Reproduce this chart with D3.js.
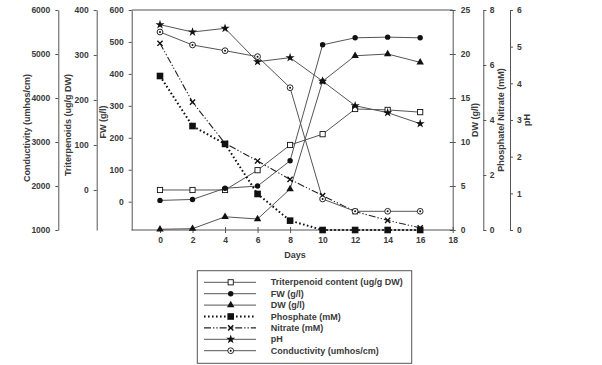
<!DOCTYPE html>
<html>
<head>
<meta charset="utf-8">
<script src="https://cdn.jsdelivr.net/npm/d3@7"></script>
<style>
  body { margin: 0; background: #fff; }
  svg text { font-family: Arial, "Liberation Sans", sans-serif; font-weight: bold; }
</style>
</head>
<body>
<svg id="chart" width="602" height="365"></svg>
<script>
// days on the x axis
const days = [0, 2, 4, 6, 8, 10, 12, 14, 16];
const dayTicks = [0, 2, 4, 6, 8, 10, 12, 14, 16, 18];

// series values
const triterpenoid = [0, 0, 0, 44, 100, 124, 180, 178, 173];
const fw = [4, 7, 42, 49, 128, 491, 513, 515, 513];
const dw = [0.08, 0.15, 1.5, 1.25, 4.66, 16.9, 19.8, 20.0, 19.05];
const phosphate = [5.6, 3.78, 3.13, 1.31, 0.34, 0, 0, 0, 0];
const nitrate = [6.79, 4.65, 3.15, 2.51, 1.84, 1.25, 0.67, 0.35, 0.08];
const ph = [5.6, 5.4, 5.5, 4.59, 4.7, 4.06, 3.39, 3.2, 2.9];
const conductivity = [5500, 5205, 5075, 4940, 4234, 1705, 1425, 1425, 1425];

// axis tick labels
const fwTicks = [0, 100, 200, 300, 400, 500, 600];
const triTicks = [0, 100, 200, 300, 400];
const condTicks = [1000, 2000, 3000, 4000, 5000, 6000];
const dwTicks = [0, 5, 10, 15, 20, 25];
const pnTicks = [0, 2, 4, 6, 8];
const phTicks = [0, 1, 2, 3, 4, 5, 6];

const legendLabels = ["Triterpenoid content (ug/g DW)", "FW (g/l)", "DW (g/l)",
  "Phosphate (mM)", "Nitrate (mM)", "pH", "Conductivity (umhos/cm)"];

const svg = d3.select("#chart");
const plotTop = 10, plotBottom = 230, plotLeft = 131.7, plotRight = 452.7;
const lineColor = "#555", markColor = "#111", textColor = "#3a3a3a";

const x = d3.scaleLinear().domain([-1.74, 18]).range([plotLeft, plotRight]);
const yFW = d3.scaleLinear().domain([-88.6, 600]).range([plotBottom, plotTop]);
const yTri = d3.scaleLinear().domain([-88.9, 400]).range([plotBottom, plotTop]);
const yCond = d3.scaleLinear().domain([1000, 6000]).range([plotBottom, plotTop]);
const yDW = d3.scaleLinear().domain([0, 25]).range([plotBottom, plotTop]);
const yPN = d3.scaleLinear().domain([0, 8]).range([plotBottom, plotTop]);
const yPH = d3.scaleLinear().domain([0, 6]).range([plotBottom, plotTop]);

function styleAxis(g) {
  g.selectAll("path, line").attr("stroke", lineColor).attr("stroke-width", 1);
  g.selectAll("text").attr("fill", textColor).style("font-size", "8.5px");
}

const addY = (scale, ticks, xpos, side, pad) => {
  const ax = (side == "left" ? d3.axisLeft(scale) : d3.axisRight(scale))
    .tickValues(ticks).tickFormat(d3.format("d")).tickSize(3).tickPadding(pad).tickSizeOuter(0);
  const g = svg.append("g").attr("transform", `translate(${xpos},0)`).call(ax);
  styleAxis(g);
  return g;
};

addY(yCond, condTicks, 58.3, "left", 5);
addY(yTri, triTicks, 96.7, "left", 5);
addY(yFW, fwTicks, plotLeft, "left", 5);
const dwAxis = addY(yDW, dwTicks, plotRight, "right", 5);
dwAxis.selectAll(".tick line").attr("x1", -3);
addY(yPN, pnTicks, 483.3, "right", 3.5);
addY(yPH, phTicks, 510, "right", 4);

// x axis, ticks cross the line
const xg = svg.append("g").attr("transform", `translate(0,${plotBottom})`)
  .call(d3.axisBottom(x).tickValues(dayTicks).tickSize(3).tickPadding(4).tickSizeOuter(0));
styleAxis(xg);
xg.selectAll(".tick line").attr("y1", -3);
xg.select(".domain").attr("d", `M${plotLeft},0H${plotRight}`);

// top frame
svg.append("line").attr("x1", plotLeft).attr("x2", plotRight).attr("y1", plotTop).attr("y2", plotTop)
  .attr("stroke", lineColor);

// axis titles
const titles = [
  ["Conductivity (umhos/cm)", 26.7, 128],
  ["Triterpenoids (ug/g DW)", 68.3, 125],
  ["FW (g/l)", 103, 122],
  ["DW (g/l)", 475, 120],
  ["Phosphate/ Nitrate (mM)", 500.5, 120],
  ["pH", 527, 120]
];
titles.forEach(t => {
  svg.append("text")
    .attr("transform", `translate(${t[1]},${t[2]}) rotate(-90)`)
    .attr("text-anchor", "middle").attr("dominant-baseline", "central")
    .attr("fill", textColor).style("font-size", "9px").text(t[0]);
});
svg.append("text").attr("x", 295).attr("y", 258).attr("text-anchor", "middle")
  .attr("fill", textColor).style("font-size", "9px").text("Days");

// markers
const drawMarker = (g, type, cx, cy) => {
  const m = g.append("g").attr("transform", `translate(${cx},${cy})`);
  if (type == "openSquare") {
    m.append("rect").attr("x", -2.6).attr("y", -2.6).attr("width", 5.2).attr("height", 5.2)
      .attr("fill", "#fff").attr("stroke", markColor).attr("stroke-width", 0.9);
  } else if (type == "circle") {
    m.append("circle").attr("r", 2.7).attr("fill", markColor);
  } else if (type == "triangle") {
    m.append("path").attr("d", d3.symbol(d3.symbolTriangle, 24)()).attr("fill", markColor);
  } else if (type == "bigSquare") {
    m.append("rect").attr("x", -3.3).attr("y", -3.3).attr("width", 6.6).attr("height", 6.6)
      .attr("fill", markColor);
  } else if (type == "cross") {
    m.append("path").attr("d", "M-2.6,-2.6L2.6,2.6M-2.6,2.6L2.6,-2.6")
      .attr("stroke", markColor).attr("stroke-width", 1.4);
  } else if (type == "star") {
    m.append("path").attr("d", d3.symbol(d3.symbolStar, 26)()).attr("fill", markColor);
  } else if (type == "circleDot") {
    m.append("circle").attr("r", 2.9).attr("fill", "#fff").attr("stroke", markColor).attr("stroke-width", 0.9);
    m.append("circle").attr("r", 1).attr("fill", markColor);
  }
};

const series = [
  { vals: triterpenoid, y: yTri, marker: "openSquare", dash: null, w: 1, c: lineColor },
  { vals: fw, y: yFW, marker: "circle", dash: null, w: 1, c: lineColor },
  { vals: dw, y: yDW, marker: "triangle", dash: null, w: 1, c: lineColor },
  { vals: phosphate, y: yPN, marker: "bigSquare", dash: "1.6,2.4", w: 2, c: "#111" },
  { vals: nitrate, y: yPN, marker: "cross", dash: "7,2,1.3,2,1.3,2", w: 1.1, c: "#222" },
  { vals: ph, y: yPH, marker: "star", dash: null, w: 1, c: lineColor },
  { vals: conductivity, y: yCond, marker: "circleDot", dash: null, w: 1, c: lineColor }
];

const plot = svg.append("g");
series.forEach(s => {
  const line = d3.line().x((d, i) => x(days[i])).y(d => s.y(d));
  plot.append("path").attr("d", line(s.vals)).attr("fill", "none")
    .attr("stroke", s.c).attr("stroke-width", s.w)
    .attr("stroke-dasharray", s.dash);
});
series.forEach(s => {
  s.vals.forEach((v, i) => drawMarker(plot, s.marker, x(days[i]), s.y(v)));
});

// legend
const lg = svg.append("g");
lg.append("rect").attr("x", 197.3).attr("y", 270.7).attr("width", 214.4).attr("height", 92.6)
  .attr("fill", "#fff").attr("stroke", lineColor).attr("stroke-width", 1);
series.forEach((s, i) => {
  const ry = 282.3 + i * 11.4;
  lg.append("line").attr("x1", 204).attr("x2", 256).attr("y1", ry).attr("y2", ry)
    .attr("stroke", s.c).attr("stroke-width", s.w).attr("stroke-dasharray", s.dash);
  drawMarker(lg, s.marker, 230.7, ry);
  lg.append("text").attr("x", 270.7).attr("y", ry).attr("dominant-baseline", "central")
    .attr("fill", textColor).style("font-size", "9px").text(legendLabels[i]);
});
</script>
</body>
</html>
